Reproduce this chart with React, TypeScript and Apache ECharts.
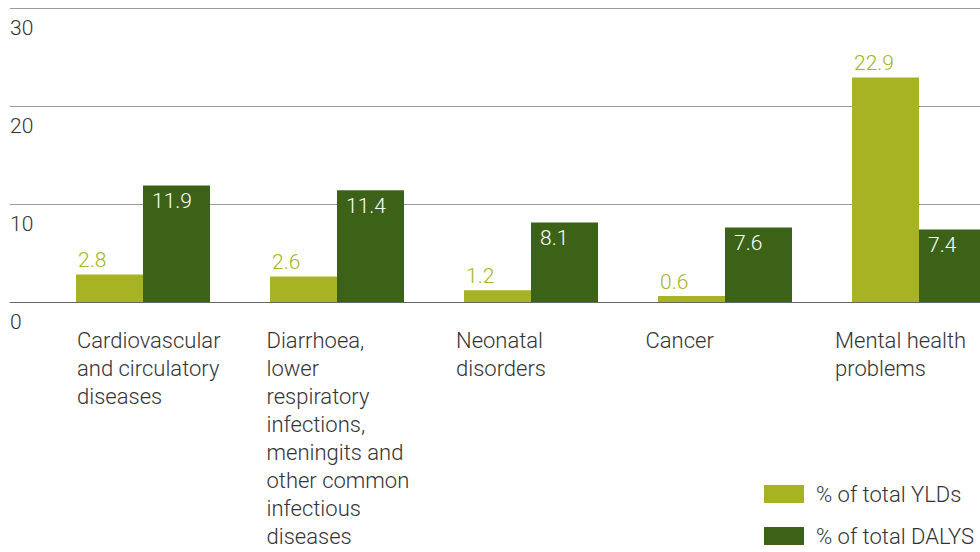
import React, { useEffect, useRef } from "react";
import * as echarts from "echarts";

const categories = [
  "Cardiovascular\nand circulatory\ndiseases",
  "Diarrhoea,\nlower\nrespiratory\ninfections,\nmeningits and\nother common\ninfectious\ndiseases",
  "Neonatal\ndisorders",
  "Cancer",
  "Mental health\nproblems",
];
const ylds = [2.8, 2.6, 1.2, 0.6, 22.9];
const dalys = [11.9, 11.4, 8.1, 7.6, 7.4];
const seriesNames = ["% of total YLDs", "% of total DALYS"];
const yMin = 0;
const yMax = 30;
const yInterval = 10;

const LIGHT = "#a7b322";
const DARK = "#3c6217";
const FONT = "Roboto, 'DejaVu Sans', sans-serif";
const W = 1020;

export default function App() {
  const ref = useRef<HTMLDivElement>(null);
  useEffect(() => {
    if (!ref.current) return;
    const chart = echarts.init(ref.current, undefined, { renderer: "svg" });
    const gridTop = 8;
    const gridHeight = 294;
    chart.setOption({
      animation: false,
      textStyle: { fontFamily: FONT, fontWeight: 300 },
      grid: [
        { left: 10, width: 970, top: gridTop, height: gridHeight },
        { left: 46, width: 970, top: gridTop, height: gridHeight },
        { left: 77, width: 758, top: gridTop, height: gridHeight },
      ],
      xAxis: [
        {
          gridIndex: 0,
          type: "category",
          data: categories,
          axisLine: { show: true, lineStyle: { color: "#666", width: 1 } },
          axisTick: { show: false },
          axisLabel: { show: false },
          splitLine: { show: false },
        },
        {
          gridIndex: 1,
          type: "category",
          data: categories,
          axisLine: { show: false },
          axisTick: { show: false },
          axisLabel: { show: false },
        },
        {
          gridIndex: 2,
          type: "category",
          data: categories,
          boundaryGap: false,
          axisLine: { show: false },
          axisTick: { show: false },
          axisLabel: {
            show: true,
            interval: 0,
            align: "left",
            verticalAlign: "top",
            margin: 24,
            fontSize: 22,
            lineHeight: 28,
            color: "#333",
            fontFamily: FONT,
            fontWeight: 300,
          },
        },
      ],
      yAxis: [
        {
          gridIndex: 0,
          type: "value",
          min: yMin,
          max: yMax,
          interval: yInterval,
          axisLine: { show: false },
          axisTick: { show: false },
          splitLine: { show: true, lineStyle: { color: "#9a9a9a", width: 1 } },
          axisLabel: {
            show: true,
            margin: 0,
            align: "left",
            verticalAlign: "top",
            padding: [9, 0, 0, 0],
            fontSize: 21,
            color: "#333",
            fontFamily: FONT,
            fontWeight: 300,
          },
        },
        {
          gridIndex: 1,
          type: "value",
          min: yMin,
          max: yMax,
          interval: yInterval,
          show: false,
          splitLine: { show: false },
        },
        {
          gridIndex: 2,
          type: "value",
          min: yMin,
          max: yMax,
          interval: yInterval,
          show: false,
          splitLine: { show: false },
        },
      ],
      legend: {
        orient: "vertical",
        left: 764,
        top: 483,
        width: 250,
        height: 150,
        padding: 0,
        itemWidth: 40,
        itemHeight: 18,
        itemGap: 20,
        icon: "rect",
        data: seriesNames,
        textStyle: {
          fontSize: 22,
          lineHeight: 18,
          color: "#333",
          fontFamily: FONT,
          fontWeight: 300,
          padding: [0, 0, 0, 7],
        },
      },
      series: [
        {
          name: seriesNames[0],
          type: "bar",
          xAxisIndex: 1,
          yAxisIndex: 1,
          data: ylds,
          barWidth: 67,
          barGap: "0%",
          itemStyle: { color: LIGHT },
          label: {
            show: true,
            position: [2, -4],
            align: "left",
            verticalAlign: "bottom",
            fontSize: 21,
            color: LIGHT,
            fontFamily: FONT,
            fontWeight: 300,
          },
        },
        {
          name: seriesNames[1],
          type: "bar",
          xAxisIndex: 1,
          yAxisIndex: 1,
          data: dalys,
          barWidth: 67,
          barGap: "0%",
          itemStyle: { color: DARK },
          label: {
            show: true,
            position: [9, 5],
            align: "left",
            verticalAlign: "top",
            fontSize: 21,
            color: "#ffffff",
            fontFamily: FONT,
            fontWeight: 300,
          },
        },
      ],
    });
    return () => chart.dispose();
  }, []);
  return (
    <div
      style={{ position: "fixed", left: 0, top: 0, width: 980, height: 552, overflow: "hidden", background: "#fff" }}
    >
      <div ref={ref} style={{ width: W, height: 552 }} />
    </div>
  );
}
